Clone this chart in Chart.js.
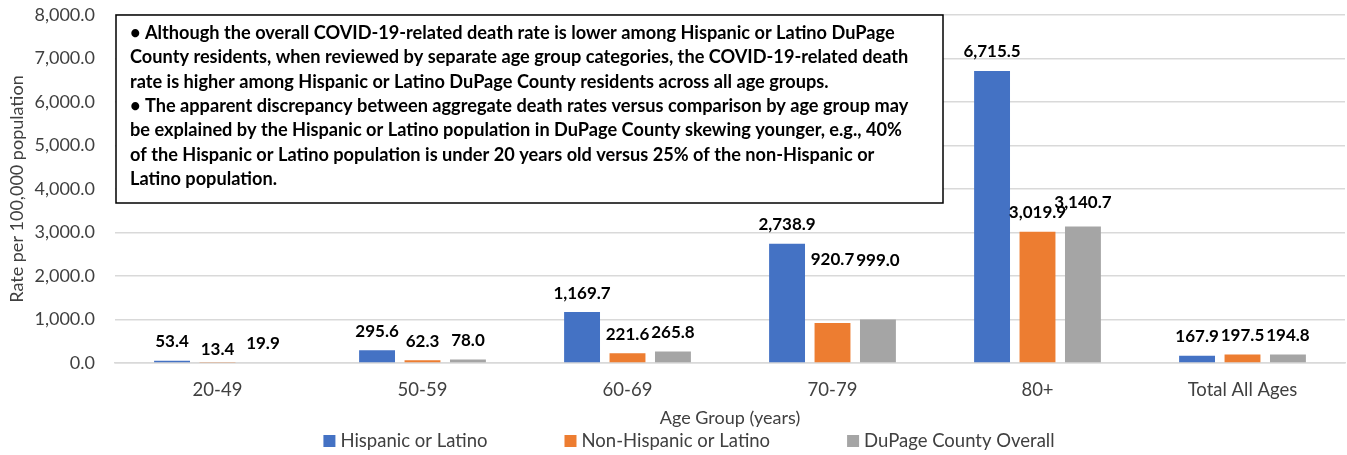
<!DOCTYPE html>
<html>
<head>
<meta charset="utf-8">
<script src="https://cdn.jsdelivr.net/npm/chart.js@4"></script>
<style>
  html, body { margin: 0; padding: 0; background: #fff; }
  #wrap { width: 1347px; height: 455px; position: relative; }
</style>
</head>
<body>
<div id="wrap"><canvas id="rateChart"></canvas></div>
<script>
// Data
const ageGroups = ['20-49', '50-59', '60-69', '70-79', '80+', 'Total All Ages'];
const hispanicRate = [53.4, 295.6, 1169.7, 2738.9, 6715.5, 167.9];
const nonHispanicRate = [13.4, 62.3, 221.6, 920.7, 3019.9, 197.5];
const dupageRate = [19.9, 78.0, 265.8, 999.0, 3140.7, 194.8];
const seriesNames = ['Hispanic or Latino', 'Non-Hispanic or Latino', 'DuPage County Overall'];
const seriesColors = ['#4472C4', '#ED7D31', '#A5A5A5'];
const yMax = 8000;
const yStep = 1000;

const noteLines = [
  '\u2022 Although the overall COVID-19-related death rate is lower among Hispanic or Latino DuPage',
  'County residents, when reviewed by separate age group categories, the COVID-19-related death',
  'rate is higher among Hispanic or Latino DuPage County residents across all age groups.',
  '\u2022 The apparent discrepancy between aggregate death rates versus comparison by age group may',
  'be explained by the Hispanic or Latino population in DuPage County skewing younger, e.g., 40%',
  'of the Hispanic or Latino population is under 20 years old versus 25% of the non-Hispanic or',
  'Latino population.'
];

const FONT = 'Lato, "Open Sans", sans-serif';
const fmt = v => v.toLocaleString('en-US', { minimumFractionDigits: 1, maximumFractionDigits: 1 });

// Excel moved a couple of labels by hand; "dataset-index" -> extra px
const labelNudge = { '1-0': 6, '1-3': -44, '2-3': -40, '2-4': -5 };

// Value labels above each bar
const barLabels = {
  id: 'barLabels',
  afterDatasetsDraw(chart) {
    const { ctx } = chart;
    ctx.save();
    ctx.font = 'bold 17px ' + FONT;
    ctx.fillStyle = '#000';
    ctx.textAlign = 'center';
    ctx.textBaseline = 'middle';
    chart.data.datasets.forEach((ds, i) => {
      chart.getDatasetMeta(i).data.forEach((bar, j) => {
        const dy = labelNudge[i + '-' + j] || 0;
        ctx.fillText(fmt(ds.data[j]), bar.x, bar.y - 19 + dy);
      });
    });
    ctx.restore();
  }
};

// Text box with the notes, plus the legend row at the bottom
const noteBox = {
  id: 'noteBox',
  afterDraw(chart) {
    const { ctx, chartArea } = chart;
    ctx.save();
    const left = chartArea.left + 1, top = 15, right = 943, bottom = 203;
    ctx.fillStyle = '#fff';
    ctx.fillRect(left, top, right - left, bottom - top);
    ctx.strokeStyle = '#000';
    ctx.lineWidth = 1.5;
    ctx.strokeRect(left, top, right - left, bottom - top);

    // size the font so the first line fills the box like the original
    ctx.font = 'bold 100px ' + FONT;
    const size = 100 * 765 / ctx.measureText(noteLines[0]).width;
    ctx.font = 'bold ' + size.toFixed(2) + 'px ' + FONT;
    ctx.fillStyle = '#000';
    ctx.textBaseline = 'middle';
    noteLines.forEach((line, k) => ctx.fillText(line, 130, 33 + k * 24.4));

    // legend
    ctx.font = '18.5px ' + FONT;
    const box = 12, gapText = 5, gapItem = 77;
    const items = chart.data.datasets.map(ds => ({ text: ds.label, color: ds.backgroundColor, w: box + gapText + ctx.measureText(ds.label).width }));
    const total = items.reduce((s, it) => s + it.w, 0) + gapItem * (items.length - 1);
    let x = 689 - total / 2;
    const y = 441;
    items.forEach(it => {
      ctx.fillStyle = it.color;
      ctx.fillRect(x, y - box / 2, box, box);
      ctx.fillStyle = '#404040';
      ctx.fillText(it.text, x + box + gapText, y);
      x += it.w + gapItem;
    });
    ctx.restore();
  }
};

const datasetValues = [hispanicRate, nonHispanicRate, dupageRate];

new Chart(document.getElementById('rateChart'), {
  type: 'bar',
  plugins: [barLabels, noteBox],
  data: {
    labels: ageGroups,
    datasets: datasetValues.map((vals, i) => ({
      label: seriesNames[i],
      data: vals,
      backgroundColor: seriesColors[i],
      categoryPercentage: 0.665,
      barPercentage: 0.79
    }))
  },
  options: {
    responsive: true,
    maintainAspectRatio: false,
    animation: false,
    layout: { padding: { top: 15, right: 2, bottom: 25, left: 0 } },
    plugins: {
      legend: { display: false },
      tooltip: { enabled: false }
    },
    scales: {
      x: {
        grid: { display: false },
        border: { color: '#D9D9D9', width: 1.5 },
        ticks: { color: '#404040', font: { family: FONT, size: 18.5 }, padding: 8 },
        title: { display: true, text: 'Age Group (years)', color: '#404040', font: { family: FONT, size: 18 }, padding: { top: 2, bottom: 1 } },
        afterFit: s => { s.height = 67; }
      },
      y: {
        min: 0,
        max: yMax,
        border: { display: false },
        grid: { color: '#D9D9D9', lineWidth: 1.5, drawTicks: false },
        ticks: { stepSize: yStep, color: '#404040', font: { family: FONT, size: 18 }, padding: 20, callback: v => fmt(v) },
        title: { display: true, text: 'Rate per 100,000 population', color: '#404040', font: { family: FONT, size: 18 }, padding: { top: 6, bottom: 0 } },
        afterFit: s => { s.width = 115; s.paddingTop = 0; s.paddingBottom = 0; }
      }
    }
  }
});
</script>
</body>
</html>
